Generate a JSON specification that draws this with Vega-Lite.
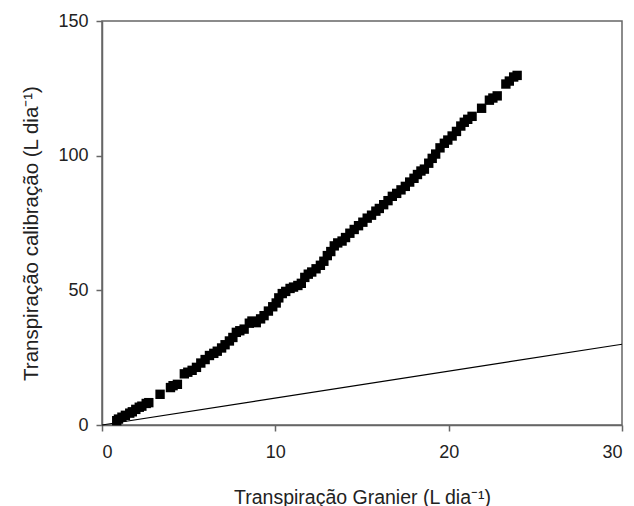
{
  "$schema": "https://vega.github.io/schema/vega-lite/v6.json",
  "width": 520,
  "height": 404,
  "autosize": "none",
  "padding": {"left": 102, "top": 21, "right": 12, "bottom": 81},
  "background": "white",
  "config": {
    "font": "Liberation Sans",
    "view": {"stroke": "#666", "strokeWidth": 1.5},
    "axis": {
      "grid": false,
      "domainColor": "#666",
      "domainWidth": 1.5,
      "tickColor": "#666",
      "tickWidth": 1.5,
      "tickSize": 6,
      "labelFont": "Liberation Sans",
      "labelFontSize": 18,
      "labelColor": "#222",
      "titleFont": "Liberation Sans",
      "titleFontSize": 19.5,
      "titleFontWeight": "normal",
      "titleColor": "#222"
    }
  },
  "datasets": {
    "calib": [
      {"granier": 0.85, "calib": 1.6}, {"granier": 0.95, "calib": 2.2}, {"granier": 1.15, "calib": 2.9},
      {"granier": 1.35, "calib": 3.6}, {"granier": 1.6, "calib": 4.4}, {"granier": 1.75, "calib": 4.9},
      {"granier": 1.95, "calib": 5.8}, {"granier": 2.15, "calib": 6.6}, {"granier": 2.3, "calib": 7.0},
      {"granier": 2.55, "calib": 8.0}, {"granier": 2.7, "calib": 8.3}, {"granier": 3.35, "calib": 11.4},
      {"granier": 3.95, "calib": 13.9}, {"granier": 4.1, "calib": 14.6}, {"granier": 4.35, "calib": 15.1},
      {"granier": 4.75, "calib": 19.0}, {"granier": 4.95, "calib": 19.6}, {"granier": 5.2, "calib": 20.3},
      {"granier": 5.45, "calib": 21.4}, {"granier": 5.7, "calib": 23.0}, {"granier": 5.95, "calib": 24.3},
      {"granier": 6.2, "calib": 25.8}, {"granier": 6.45, "calib": 26.6}, {"granier": 6.65, "calib": 27.4},
      {"granier": 6.9, "calib": 28.6}, {"granier": 7.1, "calib": 29.8}, {"granier": 7.35, "calib": 31.2},
      {"granier": 7.55, "calib": 32.5}, {"granier": 7.75, "calib": 34.4}, {"granier": 7.95, "calib": 35.0},
      {"granier": 8.2, "calib": 35.6}, {"granier": 8.5, "calib": 37.8}, {"granier": 8.65, "calib": 38.6},
      {"granier": 8.9, "calib": 38.0}, {"granier": 9.15, "calib": 39.4}, {"granier": 9.35, "calib": 40.6},
      {"granier": 9.6, "calib": 42.3}, {"granier": 9.85, "calib": 43.9}, {"granier": 10.05, "calib": 45.3},
      {"granier": 10.2, "calib": 47.2}, {"granier": 10.4, "calib": 48.8}, {"granier": 10.6, "calib": 49.6},
      {"granier": 10.85, "calib": 50.7}, {"granier": 11.05, "calib": 51.2}, {"granier": 11.3, "calib": 51.8},
      {"granier": 11.5, "calib": 52.6}, {"granier": 11.7, "calib": 54.8}, {"granier": 11.9, "calib": 56.0},
      {"granier": 12.1, "calib": 56.8}, {"granier": 12.35, "calib": 58.0}, {"granier": 12.6, "calib": 59.3},
      {"granier": 12.8, "calib": 60.8}, {"granier": 13.0, "calib": 62.9}, {"granier": 13.2, "calib": 64.4},
      {"granier": 13.4, "calib": 66.5}, {"granier": 13.6, "calib": 67.6}, {"granier": 13.85, "calib": 68.3},
      {"granier": 14.05, "calib": 69.6}, {"granier": 14.3, "calib": 71.2}, {"granier": 14.55, "calib": 72.6},
      {"granier": 14.8, "calib": 74.0}, {"granier": 15.05, "calib": 75.3}, {"granier": 15.3, "calib": 76.8},
      {"granier": 15.55, "calib": 77.9}, {"granier": 15.8, "calib": 79.4}, {"granier": 16.0, "calib": 80.4},
      {"granier": 16.25, "calib": 81.8}, {"granier": 16.5, "calib": 83.3}, {"granier": 16.75, "calib": 84.9},
      {"granier": 17.0, "calib": 86.0}, {"granier": 17.25, "calib": 87.3}, {"granier": 17.5, "calib": 88.6},
      {"granier": 17.75, "calib": 90.2}, {"granier": 18.0, "calib": 91.6}, {"granier": 18.2, "calib": 93.0},
      {"granier": 18.4, "calib": 94.3}, {"granier": 18.6, "calib": 95.0}, {"granier": 18.85, "calib": 97.2},
      {"granier": 19.05, "calib": 99.0}, {"granier": 19.25, "calib": 100.6}, {"granier": 19.5, "calib": 102.9},
      {"granier": 19.75, "calib": 104.6}, {"granier": 19.95, "calib": 105.8}, {"granier": 20.2, "calib": 107.3},
      {"granier": 20.45, "calib": 109.0}, {"granier": 20.7, "calib": 111.0}, {"granier": 20.9, "calib": 112.4},
      {"granier": 21.1, "calib": 113.5}, {"granier": 21.35, "calib": 114.6}, {"granier": 21.9, "calib": 117.6},
      {"granier": 22.35, "calib": 120.6}, {"granier": 22.55, "calib": 121.4}, {"granier": 22.8, "calib": 122.2},
      {"granier": 23.3, "calib": 126.6}, {"granier": 23.5, "calib": 127.7}, {"granier": 23.75, "calib": 129.2},
      {"granier": 23.95, "calib": 129.8}
    ],
    "oneToOne": [
      {"granier": 0, "calib": 0},
      {"granier": 30, "calib": 30}
    ]
  },
  "layer": [
    {
      "data": {"name": "oneToOne"},
      "mark": {"type": "line", "color": "black", "strokeWidth": 1.1},
      "encoding": {
        "x": {"field": "granier", "type": "quantitative"},
        "y": {"field": "calib", "type": "quantitative"}
      }
    },
    {
      "data": {"name": "calib"},
      "mark": {"type": "point", "shape": "square", "filled": true, "color": "black", "opacity": 1, "size": 88},
      "encoding": {
        "x": {
          "field": "granier",
          "type": "quantitative",
          "scale": {"domain": [0, 30], "nice": false},
          "axis": {
            "values": [0, 10, 20, 30],
            "labelPadding": 12,
            "title": "Transpiração Granier (L dia⁻¹)",
            "titleBaseline": "alphabetic",
            "titleY": 78
          }
        },
        "y": {
          "field": "calib",
          "type": "quantitative",
          "scale": {"domain": [0, 150], "nice": false},
          "axis": {
            "values": [0, 50, 100, 150],
            "labelPadding": 8,
            "title": "Transpiração calibração (L dia⁻¹)",
            "titleFontSize": 20.5,
            "titleBaseline": "alphabetic",
            "titleX": -65,
            "titleY": 212
          }
        }
      }
    }
  ]
}
